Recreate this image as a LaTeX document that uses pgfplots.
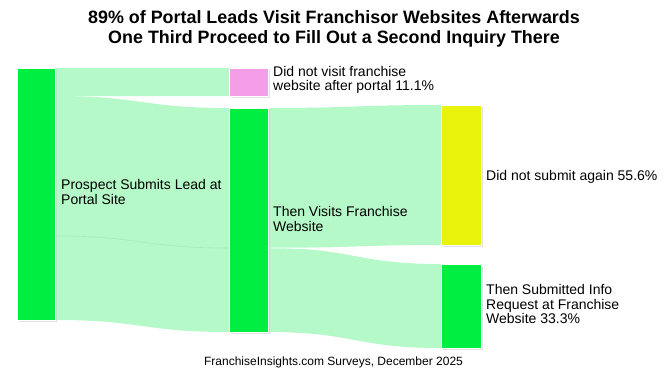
\documentclass[border=0pt]{standalone}
\usepackage{pgfplots}
\pgfplotsset{compat=1.18}
\usepackage{fontspec}
\setmainfont{Liberation Sans}
\definecolor{flowc}{RGB}{180,249,199}
\definecolor{nodegreen}{RGB}{0,238,66}
\definecolor{nodepink}{RGB}{245,158,232}
\definecolor{nodeyellow}{RGB}{232,242,10}
\definecolor{shadowc}{RGB}{205,205,205}
% flow: x1, ytop1, ybot1, x2, ytop2, ybot2, xmid
\newcommand{\flow}[7]{%
  \fill[flowc] (axis cs:#1,#2) .. controls (axis cs:#7,#2) and (axis cs:#7,#5) .. (axis cs:#4,#5)
    -- (axis cs:#4,#6) .. controls (axis cs:#7,#6) and (axis cs:#7,#3) .. (axis cs:#1,#3) -- cycle;}
\newcommand{\sknode}[5]{% x1 x2 y1 y2 color
  \addplot[fill=shadowc, draw=none, opacity=0.6, forget plot] coordinates {(#1+2,#3+2) (#2+2,#3+2) (#2+2,#4+2) (#1+2,#4+2)} -- cycle;
  \addplot[fill=#5, draw=white, line width=1pt, forget plot] coordinates {(#1,#3) (#2,#3) (#2,#4) (#1,#4)} -- cycle;}
\begin{document}
\begin{tikzpicture}
\begin{axis}[x=1bp, y=1bp, xmin=0, xmax=665, ymin=0, ymax=385, y dir=reverse,
  hide axis, clip=false, scale only axis]
\path[draw=none] (axis cs:0,0) rectangle (axis cs:665,385);
% flows
\flow{55}{68}{96}{229}{68}{96}{142}
\flow{55}{96}{236}{229}{108}{248}{142}
\flow{55}{236}{320}{229}{248}{332}{142}
\draw[color={rgb,255:red,160;green,236;blue,182}, line width=0.6pt] (axis cs:55,236) .. controls (axis cs:142,236) and (axis cs:142,248) .. (axis cs:229,248);
\flow{268}{108}{248}{441}{105}{245}{354.5}
\flow{268}{248}{332}{441}{264}{348}{354.5}
\draw[white, line width=0.6pt] (axis cs:268,248) .. controls (axis cs:354.5,248) and (axis cs:354.5,248) .. (axis cs:441,250);
% nodes
\sknode{17}{55}{68}{320}{nodegreen}
\sknode{229}{268}{68}{96}{nodepink}
\sknode{229}{268}{108}{332}{nodegreen}
\sknode{441}{481}{105}{245}{nodeyellow}
\sknode{441}{481}{264}{348}{nodegreen}
% labels
\begin{scope}[every node/.style={font=\fontsize{14bp}{14.5bp}\selectfont, align=left, anchor=west, inner sep=0pt}]
\node at (axis cs:61,192) {Prospect Submits Lead at\\Portal Site};
\node at (axis cs:273,80) {Did not visit franchise\\website after portal 11.1\%};
\node at (axis cs:273,219) {Then Visits Franchise\\Website};
\node at (axis cs:486,177) {Did not submit again 55.6\%};
\node at (axis cs:486,304) {Then Submitted Info\\Request at Franchise\\Website 33.3\%};
\end{scope}
\node[font=\bfseries\fontsize{17.9bp}{20bp}\selectfont, align=center, inner sep=0pt] at (axis cs:334,29) {89\% of Portal Leads Visit Franchisor Websites Afterwards\\One Third Proceed to Fill Out a Second Inquiry There};
\node[font=\fontsize{12bp}{14bp}\selectfont, inner sep=0pt] at (axis cs:333.5,362) {FranchiseInsights.com Surveys, December 2025};
\end{axis}
\end{tikzpicture}
\end{document}
